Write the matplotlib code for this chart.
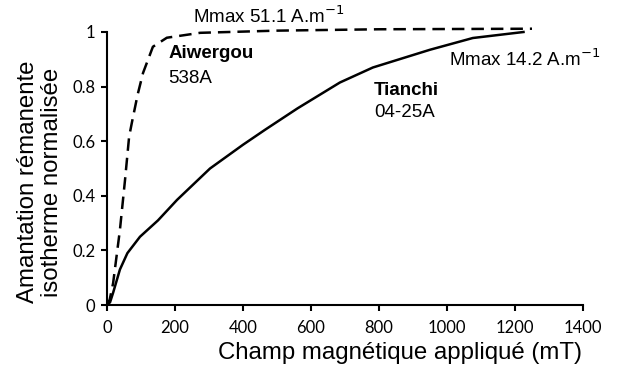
import matplotlib.pyplot as plt
import numpy as np

# --- Datos ---
# Tianchi 04-25A (linea continua)
champ_tianchi = [0, 9, 18, 38, 60, 97, 150, 206, 303, 400, 465, 560, 685, 782, 950, 1076, 1225]
aimant_tianchi = [0, 0.01, 0.045, 0.13, 0.19, 0.25, 0.31, 0.385, 0.50, 0.587, 0.642, 0.72, 0.815, 0.87, 0.935, 0.978, 1.0]

# Aiwergou 538A (linea discontinua)
champ_aiwergou = [0, 8, 18, 38, 53, 65, 73, 90, 106, 135, 176, 274, 500, 800, 1250]
aimant_aiwergou = [0, 0.02, 0.08, 0.275, 0.458, 0.616, 0.667, 0.77, 0.85, 0.946, 0.979, 0.997, 1.005, 1.01, 1.012]

xticks = [0, 200, 400, 600, 800, 1000, 1200, 1400]
yticks = [0, 0.2, 0.4, 0.6, 0.8, 1]
ytick_labels = ["0", "0.2", "0.4", "0.6", "0.8", "1"]

fig = plt.figure(figsize=(6.23, 3.76), dpi=100)
ax = fig.add_axes([107 / 623, 1 - 305 / 376, (583 - 107) / 623, (305 - 32) / 376])

ax.plot(champ_tianchi, aimant_tianchi, "-", color="black", linewidth=1.8, clip_on=False)
ax.plot(champ_aiwergou, aimant_aiwergou, "--", color="black", linewidth=1.8,
        dashes=(5, 2.8), clip_on=False)

ax.set_xlim(0, 1400)
ax.set_ylim(0, 1)
ax.set_xticks(xticks)
ax.set_yticks(yticks)
ax.set_xticklabels([str(v) for v in xticks], family="Lato", fontsize=12)
ax.set_yticklabels(ytick_labels, family="Lato", fontsize=12)
ax.tick_params(length=4.5, width=1.5, color="black")
ax.tick_params(axis="y", pad=4)
ax.tick_params(axis="x", pad=6)

for side in ["top", "right"]:
    ax.spines[side].set_visible(False)
for side in ["left", "bottom"]:
    ax.spines[side].set_linewidth(1.5)

lab = dict(family="Liberation Sans", fontsize=17.3)
ax.set_xlabel("Champ magnétique appliqué (mT)", **lab)
ax.xaxis.set_label_coords(0.615, -0.135)
ax.set_ylabel("Amantation rémanente\nisotherme normalisée", linespacing=1.1, **lab)
ax.yaxis.set_label_coords(-0.093, 0.45)

txt = dict(family="Liberation Sans", fontsize=13.5, color="black")
ax.text(476, 1.058, "Mmax 51.1 A.m$^{-1}$", ha="center", va="center", **txt)
ax.text(180, 0.92, "Aiwergou", ha="left", va="center", fontweight="bold", **txt)
ax.text(180, 0.83, "538A", ha="left", va="center", **txt)
ax.text(785, 0.785, "Tianchi", ha="left", va="center", fontweight="bold", **txt)
ax.text(785, 0.705, "04-25A", ha="left", va="center", **txt)
ax.text(1005, 0.90, "Mmax 14.2 A.m$^{-1}$", ha="left", va="center", **txt)

fig.savefig("out.png", dpi=100)
